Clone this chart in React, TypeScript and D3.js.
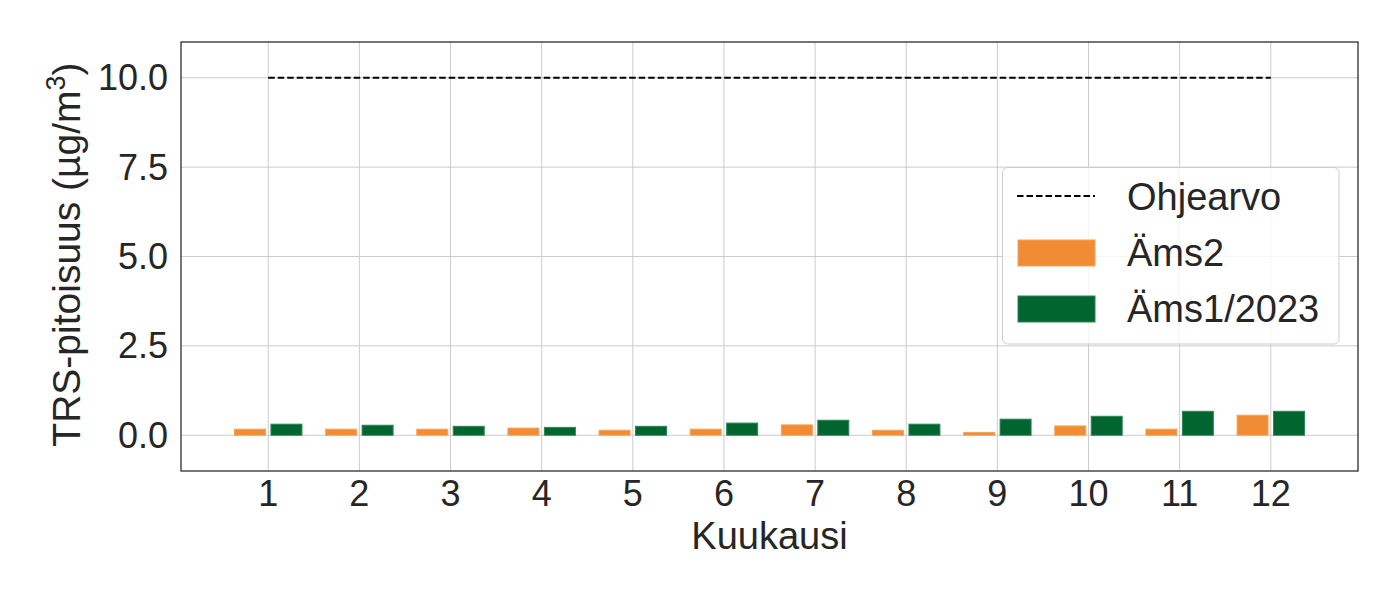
import React from "react";
import * as d3 from "d3";

const months = [1, 2, 3, 4, 5, 6, 7, 8, 9, 10, 11, 12];
const ams2 = [0.17, 0.17, 0.17, 0.2, 0.14, 0.17, 0.29, 0.14, 0.08, 0.26, 0.17, 0.56];
const ams1 = [0.31, 0.28, 0.25, 0.22, 0.25, 0.34, 0.42, 0.31, 0.45, 0.53, 0.67, 0.67];
const guideValue = 10;
const yTicks = [0, 2.5, 5, 7.5, 10];
const seriesNames = ["Ohjearvo", "Äms2", "Äms1/2023"];

const W = 1400, H = 600;
const L = 181, R = 1358, T = 42, B = 471;
const ORANGE = "#F28C34";
const ORANGE_EDGE = "#F5A35C";
const GREEN = "#00652F";
const GREEN_EDGE = "#2F8556";
const TXT = "#262626";
const FONT = "'Liberation Sans', Arial, sans-serif";

export default function App() {
  const x = d3.scaleLinear().domain([0.043, 12.957]).range([L, R]);
  const y = d3.scaleLinear().domain([-1, 11]).range([B, T]);
  const bw = 0.34;
  const off = 0.2;
  const bwPx = x(bw) - x(0);

  return (
    <svg width={W} height={H} style={{ position: "absolute", left: 0, top: 0, background: "#fff" }} fontFamily={FONT}>
      <rect x={0} y={0} width={W} height={H} fill="#fff" />
      {months.map((m) => (
        <line key={"gx" + m} x1={x(m)} x2={x(m)} y1={T} y2={B} stroke="#cccccc" strokeWidth={1} />
      ))}
      {yTicks.map((t) => (
        <line key={"gy" + t} x1={L} x2={R} y1={y(t)} y2={y(t)} stroke="#cccccc" strokeWidth={1} />
      ))}
      {months.map((m, i) => (
        <rect key={"o" + m} x={x(m - off) - bwPx / 2} y={y(ams2[i])} width={bwPx} height={y(0) - y(ams2[i])}
          fill={ORANGE} stroke={ORANGE_EDGE} strokeWidth={1} />
      ))}
      {months.map((m, i) => (
        <rect key={"g" + m} x={x(m + off) - bwPx / 2} y={y(ams1[i])} width={bwPx} height={y(0) - y(ams1[i])}
          fill={GREEN} stroke={GREEN_EDGE} strokeWidth={1} />
      ))}
      <line x1={x(months[0])} x2={x(months[months.length - 1])} y1={y(guideValue)} y2={y(guideValue)}
        stroke="#000" strokeWidth={1.8} strokeDasharray="6.5,3" />
      <rect x={L} y={T} width={R - L} height={B - T} fill="none" stroke={TXT} strokeWidth={1.25} />
      {yTicks.map((t) => (
        <text key={"yt" + t} x={168} y={y(t)} dy="0.35em" textAnchor="end" fontSize={36} fill={TXT}>
          {t.toFixed(1)}
        </text>
      ))}
      {months.map((m) => (
        <text key={"xt" + m} x={x(m)} y={506} textAnchor="middle" fontSize={36} fill={TXT}>
          {m}
        </text>
      ))}
      <text x={(L + R) / 2} y={549} textAnchor="middle" fontSize={38} fill={TXT}>Kuukausi</text>
      <text transform={`translate(80, ${(T + B) / 2 - 2}) rotate(-90)`} textAnchor="middle" fontSize={39} fill={TXT}>
        TRS-pitoisuus (µg/m<tspan dy="-15" fontSize={27}>3</tspan><tspan dy="15">)</tspan>
      </text>
      <g>
        <rect x={1002.5} y={167.5} width={336.5} height={176.5} rx={5} fill="#fff" fillOpacity={0.8} stroke="#cccccc" strokeWidth={1} />
        <line x1={1017} x2={1095} y1={196} y2={196} stroke="#000" strokeWidth={1.8} strokeDasharray="6.5,3" />
        <rect x={1018} y={240} width={77} height={26} fill={ORANGE} stroke={ORANGE_EDGE} strokeWidth={1} />
        <rect x={1018} y={296} width={77} height={26} fill={GREEN} stroke={GREEN_EDGE} strokeWidth={1} />
        <text x={1127} y={210} fontSize={38} fill={TXT}>{seriesNames[0]}</text>
        <text x={1127} y={266} fontSize={38} fill={TXT}>{seriesNames[1]}</text>
        <text x={1127} y={322} fontSize={38} fill={TXT}>{seriesNames[2]}</text>
      </g>
    </svg>
  );
}
